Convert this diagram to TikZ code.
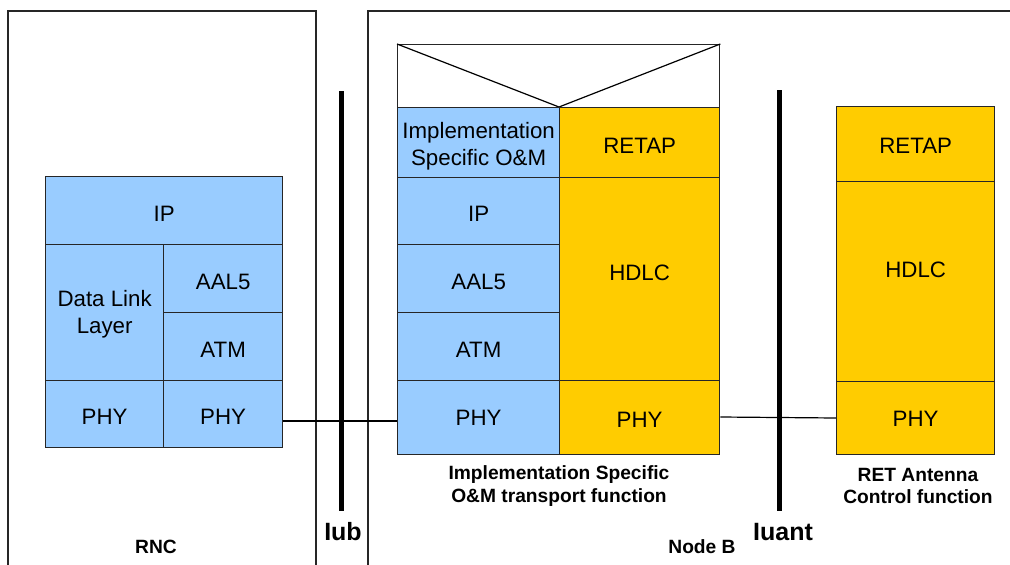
\documentclass[tikz,border=0pt]{standalone}
\usepackage{fontspec}
\setmainfont{Liberation Sans}
\definecolor{lblue}{HTML}{99CCFF}
\definecolor{lyel}{HTML}{FFCC00}
\begin{document}
\begin{tikzpicture}[x=1pt,y=-1pt,
  cell/.style={draw=black!85,line width=1.3pt,inner sep=0pt,anchor=north west},
  bcell/.style={cell,fill=lblue},
  ycell/.style={cell,fill=lyel},
  txt/.style={align=center,font=\fontsize{22.3}{27}\selectfont,inner sep=0pt,yshift=-3pt},
  frame/.style={draw=black!85,line width=1.3pt},
  bar/.style={line width=5pt},
  lab/.style={font=\bfseries\fontsize{19.2}{22.5}\selectfont,align=center},
  ilab/.style={font=\bfseries\fontsize{25}{28}\selectfont},
  link/.style={line width=1.2pt}]
\useasboundingbox (0,0) rectangle (1010,565);
% outer frames
\draw[frame] (8,580) -- (8,11) -- (316,11) -- (316,580);
\draw[frame] (368,580) -- (368,11) -- (1030,11);
% interface bars
\coordinate (iubt) at (341,91); \coordinate (iubb) at (341,511);
\draw[bar] (iubt) -- (iubb);
\coordinate (iuat) at (779,90); \coordinate (iuab) at (779,511);
\draw[bar] (iuat) -- (iuab);
\node[ilab] (iub) at (343,532) {Iub};
\node[ilab] (iuant) at (783,532) {Iuant};
% RNC stack
\node[bcell,minimum width=237pt,minimum height=68pt,label={[txt]center:IP}] (rip) at (45,176) {};
\node[bcell,minimum width=118pt,minimum height=136pt,label={[txt,yshift=1pt]center:Data Link\\Layer}] (rdll) at (45,244) {};
\node[bcell,minimum width=119pt,minimum height=68pt,label={[txt]center:AAL5}] (raal) at (163,244) {};
\node[bcell,minimum width=119pt,minimum height=68pt,label={[txt]center:ATM}] (ratm) at (163,312) {};
\node[bcell,minimum width=118pt,minimum height=67pt,label={[txt]center:PHY}] (rphy1) at (45,380) {};
\node[bcell,minimum width=119pt,minimum height=67pt,label={[txt]center:PHY}] (rphy2) at (163,380) {};
% Node B stack
\node[cell,minimum width=322pt,minimum height=63pt] (top) at (397,44) {};
\coordinate (apex) at (559,107);
\draw[line width=1.2pt] (top.north west) -- (apex) -- (top.north east);
\node[bcell,minimum width=162pt,minimum height=70pt,label={[txt,yshift=-1pt]center:Implementation\\Specific O\&M}] (nism) at (397,107) {};
\node[bcell,minimum width=162pt,minimum height=67pt,label={[txt]center:IP}] (nip) at (397,177) {};
\node[bcell,minimum width=162pt,minimum height=68pt,label={[txt]center:AAL5}] (naal) at (397,244) {};
\node[bcell,minimum width=162pt,minimum height=68pt,label={[txt]center:ATM}] (natm) at (397,312) {};
\node[bcell,minimum width=162pt,minimum height=74pt,label={[txt,yshift=3pt]center:PHY}] (nphy1) at (397,380) {};
\node[ycell,minimum width=160pt,minimum height=70pt,label={[txt]center:RETAP}] (nretap) at (559,107) {};
\node[ycell,minimum width=160pt,minimum height=203pt,label={[txt,yshift=9pt]center:HDLC}] (nhdlc) at (559,177) {};
\node[ycell,minimum width=160pt,minimum height=74pt,label={[txt,yshift=1pt]center:PHY}] (nphy2) at (559,380) {};
% RET stack
\node[ycell,minimum width=158pt,minimum height=75pt,label={[txt,yshift=1pt]center:RETAP}] (tretap) at (836,106) {};
\node[ycell,minimum width=158pt,minimum height=200pt,label={[txt,yshift=15pt]center:HDLC}] (thdlc) at (836,181) {};
\node[ycell,minimum width=158pt,minimum height=73pt,label={[txt,yshift=2pt]center:PHY}] (tphy) at (836,381) {};
% links
\draw[link] (rphy2.east |- 0,421) -- (nphy1.west |- 0,421);
\draw[link] (nphy2.east |- 0,417) -- (tphy.west |- 0,418);
% labels
\node[lab] (lism) at (559,486) {Implementation Specific\\O\&M transport function};
\node[lab] (lret) at (918,486) {RET Antenna\\Control function};
\node[lab] (lrnc) at (156,547) {RNC};
\node[lab] (lnb) at (702,547) {Node B};
\end{tikzpicture}
\end{document}
